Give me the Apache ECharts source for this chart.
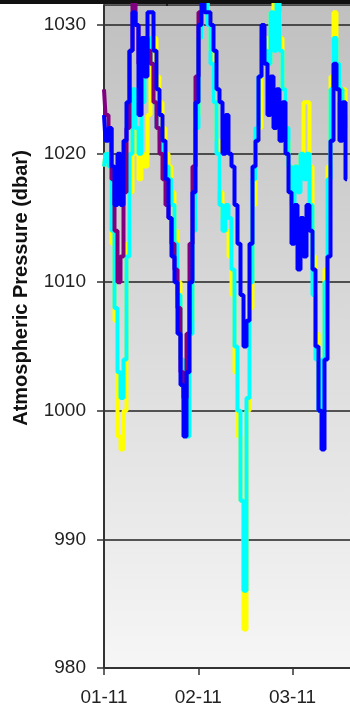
<!DOCTYPE html>
<html>
<head>
<meta charset="utf-8">
<title>Atmospheric Pressure</title>
<script src="https://cdn.jsdelivr.net/npm/echarts@6/dist/echarts.min.js"></script>
<style>
  html, body { margin: 0; padding: 0; background: #fff; }
  #main { width: 350px; height: 714px; }
</style>
</head>
<body>
<div id="main"></div>
<script>
// sample index (about one per day), 0 = 01-11
var days = [0, 1, 2, 3, 4, 5, 6, 7, 8, 9, 10, 11, 12, 13, 14, 15, 16, 17, 18, 19,
  20, 21, 22, 23, 24, 25, 26, 27, 28, 29, 30, 31, 32, 33, 34, 35, 36, 37, 38, 39,
  40, 41, 42, 43, 44, 45, 46, 47, 48, 49, 50, 51, 52, 53, 54, 55, 56, 57, 58, 59,
  60, 61, 62, 63, 64, 65, 66, 67, 68, 69, 70, 71, 72, 73, 74, 75, 76, 77, 78, 79,
  80, 81]
var monthLabels = ['01-11', '02-11', '03-11']
var monthStep = 31.43
var yTicks = [980, 990, 1000, 1010, 1020, 1030]

var yellowVals = [1019, 1020, 1019, 1013, 1007, 998, 997, 1000, 1013, 1017,
  1022, 1020, 1018, 1020, 1019, 1023, 1027, 1029, 1026, 1024,
  1022, 1020, 1019, 1017, 1014, 1010, 1004, 1000, 999, 1007,
  1015, 1023, 1029, 1031, 1032, 1031, 1028, 1024, 1021, 1017,
  1015, 1014, 1012, 1009, 1003, 998, 993, 983, 1000, 1008,
  1016, 1021, 1022, 1028, 1029, 1027, 1031, 1032, 1031, 1029,
  1025, 1021, 1019, 1017, 1019, 1018, 1020, 1024, 1024, 1019,
  1012, 1006, 1001, 1004, 1011, 1019, 1026, 1031, 1027, 1024,
  1025, 1024]

var cyanVals = [1019, 1020, 1019, 1014, 1008, 1003, 1001, 1004, 1012, 1020,
  1025, 1022, 1020, 1024, 1027, 1029, 1027, 1024, 1022, 1021,
  1020, 1019, 1018, 1016, 1013, 1009, 1004, 1000, 998, 1006,
  1014, 1022, 1029, 1031, 1032, 1030, 1027, 1024, 1020, 1016,
  1014, 1016, 1015, 1011, 1005, 1000, 993, 986, 1001, 1010,
  1018, 1022, 1026, 1029, 1028, 1027, 1031, 1028, 1032, 1028,
  1025, 1022, 1019, 1016, 1019, 1017, 1020, 1018, 1020, 1016,
  1009, 1004, 1000, 1004, 1010, 1018, 1025, 1029, 1027, 1025,
  1023, 1022]

var purpleVals = [1025, 1023, 1022, 1018, 1014, 1010, 1012, 1017, 1022, 1028,
  1032, 1030, 1027, 1028, 1029, 1028, 1027, 1024, 1022, 1020,
  1018, 1016, 1015, 1013, 1011, 1008, 1003, 1001, 1006, 1013,
  1019, 1026, 1031]

var blueVals = [1023, 1021, 1022, 1019, 1016, 1020, 1016, 1021, 1024, 1028,
  1031, 1030, 1023, 1029, 1026, 1031, 1031, 1028, 1025, 1023,
  1021, 1018, 1015, 1012, 1010, 1006, 1002, 998, 1003, 1010,
  1017, 1024, 1030, 1032, 1031, 1031, 1030, 1028, 1025, 1024,
  1020, 1023, 1020, 1019, 1016, 1013, 1009, 1005, 1007, 1013,
  1019, 1021, 1026, 1030, 1027, 1023, 1026, 1022, 1025, 1021,
  1024, 1020, 1017, 1013, 1016, 1011, 1015, 1012, 1016, 1014,
  1011, 1005, 1000, 997, 1004, 1012, 1021, 1027, 1025, 1021,
  1024, 1018]

function pairs (vals) {
  var arr = []
  vals.forEach(function (v, i) {
    arr.push([days[i], v])
  })
  return arr
}

function lineSeries (name, color, vals) {
  return {
    name: name,
    type: 'line',
    step: 'middle',
    showSymbol: false,
    clip: true,
    lineStyle: { color: color, width: 4 },
    itemStyle: { color: color },
    data: pairs(vals)
  }
}

var labelFont = {
  fontFamily: '"Liberation Sans", Arial, sans-serif',
  fontSize: 19,
  color: '#222'
}

var chart = echarts.init(document.getElementById('main'))
chart.setOption({
  animation: false,
  grid: {
    left: 104,
    right: 0,
    top: 5,
    bottom: 46,
    show: true,
    borderWidth: 0,
    backgroundColor: new echarts.graphic.LinearGradient(0, 0, 0, 1, [
      { offset: 0, color: '#c0c0c0' },
      { offset: 1, color: '#f6f6f6' }
    ])
  },
  xAxis: {
    type: 'value',
    min: 0,
    max: 82,
    interval: monthStep,
    axisLine: { lineStyle: { color: '#333', width: 2 } },
    axisTick: { show: true, inside: false, length: 7, lineStyle: { color: '#333', width: 1.5 } },
    splitLine: { show: false },
    axisLabel: Object.assign({
      margin: 20,
      showMaxLabel: false,
      formatter: function (v) {
        var k = Math.round(v / monthStep)
        if (Math.abs(v - k * monthStep) < 0.01 && k < monthLabels.length) return monthLabels[k]
        return ''
      }
    }, labelFont)
  },
  yAxis: {
    type: 'value',
    min: yTicks[0],
    max: 1031.56,
    interval: 10,
    axisLine: { show: true, lineStyle: { color: '#333', width: 2 } },
    axisTick: { show: true, inside: false, length: 7, lineStyle: { color: '#333', width: 1.5 } },
    splitLine: { show: true, lineStyle: { color: '#222', width: 1.5 } },
    axisLabel: Object.assign({
      margin: 18,
      showMaxLabel: false,
      formatter: function (v) {
        return yTicks.indexOf(v) >= 0 ? String(v) : ''
      }
    }, labelFont)
  },
  graphic: [
    // axis of the panel above, cut off at the top
    { type: 'rect', shape: { x: 0, y: 0, width: 350, height: 4 }, style: { fill: '#111' } },
    { type: 'rect', shape: { x: 166, y: 0, width: 2, height: 6 }, style: { fill: '#111' } },
    {
      type: 'text',
      x: 21,
      y: 288,
      rotation: Math.PI / 2,
      style: {
        text: 'Atmospheric Pressure (dbar)',
        font: 'bold 20px "Liberation Sans", Arial, sans-serif',
        fill: '#111',
        textAlign: 'center',
        textVerticalAlign: 'middle'
      }
    }
  ],
  series: [
    lineSeries('yellow', '#ffff00', yellowVals),
    lineSeries('cyan', '#00ffff', cyanVals),
    lineSeries('purple', '#800080', purpleVals),
    lineSeries('blue', '#0000ff', blueVals)
  ]
})
</script>
</body>
</html>
